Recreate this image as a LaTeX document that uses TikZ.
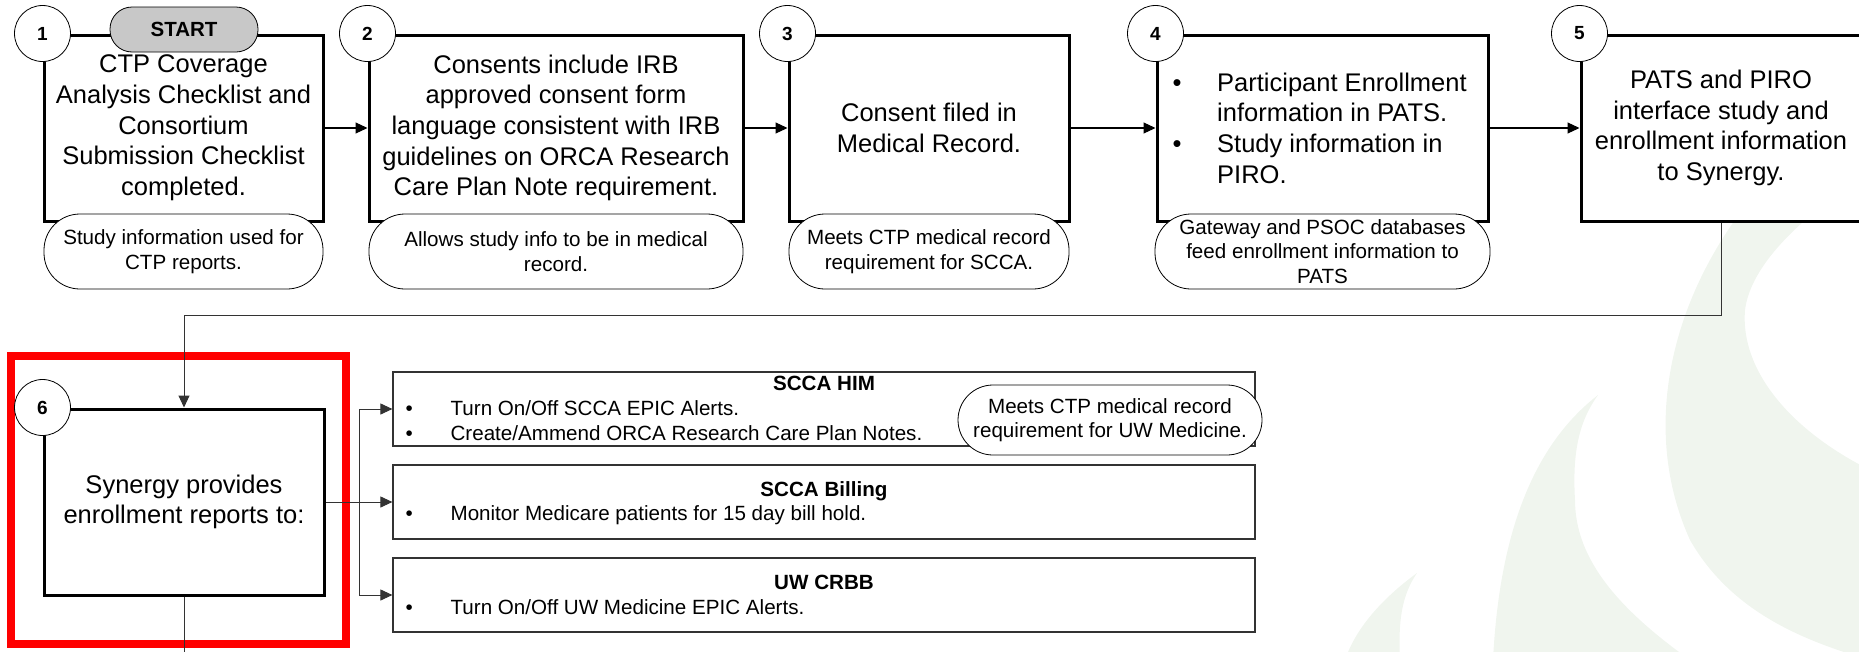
\documentclass[tikz,border=0pt]{standalone}
\usepackage{fontspec}
\setmainfont{Liberation Sans}
\usetikzlibrary{arrows.meta}
\definecolor{wm}{RGB}{240,245,238}
\definecolor{hl}{RGB}{255,0,0}
\definecolor{startgray}{RGB}{200,200,200}
\begin{document}
\begin{tikzpicture}[x=1pt,y=-1pt,
  big/.style={font=\fontsize{25.5}{30.7}\selectfont},
  small/.style={font=\fontsize{20.6}{24.5}\selectfont},
  smallbold/.style={font=\fontsize{20.6}{24.5}\selectfont\bfseries},
  mainbox/.style={draw, line width=3pt, fill=white, rectangle, inner sep=0pt, align=center, big, minimum height=186pt},
  numc/.style={draw, circle, line width=0.8pt, fill=white, minimum size=56pt, inner sep=0pt, font=\fontsize{19}{19}\selectfont\bfseries},
  note/.style={draw, line width=0.8pt, fill=white, rounded corners=36pt, minimum height=75pt, inner sep=0pt, align=center, small},
  listbox/.style={draw=black!80, line width=1.2pt, fill=white, minimum width=862pt, minimum height=74pt, inner sep=0pt},
  txt/.style={inner sep=0pt, anchor=base west, small},
  arr/.style={-{Triangle[length=12pt,width=11pt]}, line width=1.1pt},
  conn/.style={draw=black!80, line width=1pt},
]
\useasboundingbox (0,0) rectangle (1859,651);
% watermark
\fill[wm] (1750,200) .. controls (1670,300) and (1640,430) .. (1690,540) .. controls (1730,610) and (1800,640) .. (1870,660) -- (1870,470) .. controls (1790,430) and (1740,370) .. (1745,310) .. controls (1750,270) and (1790,230) .. (1830,200) -- cycle;
\fill[wm] (1598,395) .. controls (1540,440) and (1500,520) .. (1493,660) -- (1690,660) .. controls (1620,610) and (1575,560) .. (1575,500) .. controls (1572,450) and (1580,420) .. (1598,395) -- cycle;
\fill[wm] (1417,573) .. controls (1380,600) and (1355,630) .. (1345,660) -- (1400,660) .. controls (1398,620) and (1402,595) .. (1417,573) -- cycle;
% highlight frame
\draw[hl, line width=8pt] (10.5,356) rectangle (346,644);
% main boxes
\node[mainbox, minimum width=279pt] (b1) at (183.5,128) {CTP Coverage\\Analysis Checklist and\\Consortium\\Submission Checklist\\completed.};
\node[mainbox, minimum width=374pt] (b2) at (556,128) {Consents include IRB\\approved consent form\\language consistent with IRB\\guidelines on ORCA Research\\Care Plan Note requirement.};
\node[mainbox, minimum width=280pt] (b3) at (929,128) {Consent filed in\\Medical Record.};
\node[mainbox, minimum width=331pt] (b4) at (1322.5,128) {};
\node[big, anchor=west, align=left, inner sep=0pt] (b4t) at (1172.5,128) {\makebox[44.5pt][l]{\textbullet}Participant Enrollment\\\hspace*{44.5pt}information in PATS.\\\makebox[44.5pt][l]{\textbullet}Study information in\\\hspace*{44.5pt}PIRO.};
\node[mainbox, minimum width=280pt] (b5) at (1721,128) {PATS and PIRO\\interface study and\\enrollment information\\to Synergy.};
\node[mainbox, minimum width=280pt] (b6) at (184,502) {Synergy provides\\enrollment reports to:};
% number circles
\node[numc] (n1) at (b1.north west) {1};
\node[numc] (n2) at (b2.north west) {2};
\node[numc] (n3) at (b3.north west) {3};
\node[numc] (n4) at (b4.north west) {4};
\node[numc] (n5) at (b5.north west) {5};
\node[numc] (n6) at (b6.north west) {6};
% start
\node[draw, line width=0.8pt, fill=startgray, rounded corners=22pt, minimum width=148pt, minimum height=45pt, inner sep=0pt, font=\fontsize{20.5}{20.5}\selectfont\bfseries] (start) at (184,29.5) {START};
% notes
\node[note, minimum width=279pt] (t1) at (183.5,251.5) {Study information used for\\CTP reports.};
\node[note, minimum width=374pt] (t2) at (556,251.5) {Allows study info to be in medical\\record.};
\node[note, minimum width=280pt] (t3) at (929,251.5) {Meets CTP medical record\\requirement for SCCA.};
\node[note, minimum width=335pt] (t4) at (1322.5,251.5) {Gateway and PSOC databases\\feed enrollment information to\\PATS};
% list boxes
\node[listbox] (him) at (824,409) {};
\node[listbox] (bill) at (824,502) {};
\node[listbox] (uw) at (824,595) {};
\node[smallbold, inner sep=0pt, anchor=base] (himt) at (824,390.4) {SCCA HIM};
\node[txt] (him1) at (405.4,415.4) {\makebox[45pt][l]{\textbullet}Turn On/Off SCCA EPIC Alerts.};
\node[txt] (him2) at (405.4,440.4) {\makebox[45pt][l]{\textbullet}Create/Ammend ORCA Research Care Plan Notes.};
\node[smallbold, inner sep=0pt, anchor=base] (billt) at (824,496.4) {SCCA Billing};
\node[txt] (bill1) at (405.4,520.4) {\makebox[45pt][l]{\textbullet}Monitor Medicare patients for 15 day bill hold.};
\node[smallbold, inner sep=0pt, anchor=base] (uwt) at (824,589.4) {UW CRBB};
\node[txt] (uw1) at (405.4,614.4) {\makebox[45pt][l]{\textbullet}Turn On/Off UW Medicine EPIC Alerts.};
\node[note, minimum width=304pt, minimum height=70pt, rounded corners=35pt] (himn) at (1110,420) {Meets CTP medical record\\requirement for UW Medicine.};
% connectors
\draw[arr] (b1.east) -- (b2.west);
\draw[arr] (b2.east) -- (b3.west);
\draw[arr] (b3.east) -- (b4.west);
\draw[arr] (b4.east) -- (b5.west);
\coordinate (bend) at (1721,315);
\draw[arr, conn] (b5.south) -- (bend) -| (b6.north);
\coordinate (b6end) at (184,665);
\draw[conn] (b6.south) -- (b6end);
\coordinate (j) at (359,502);
\draw[arr, conn] (b6.east) -- (bill.west);
\draw[arr, conn] (j) |- (him.west);
\draw[arr, conn] (j) |- (uw.west);
\end{tikzpicture}
\end{document}
